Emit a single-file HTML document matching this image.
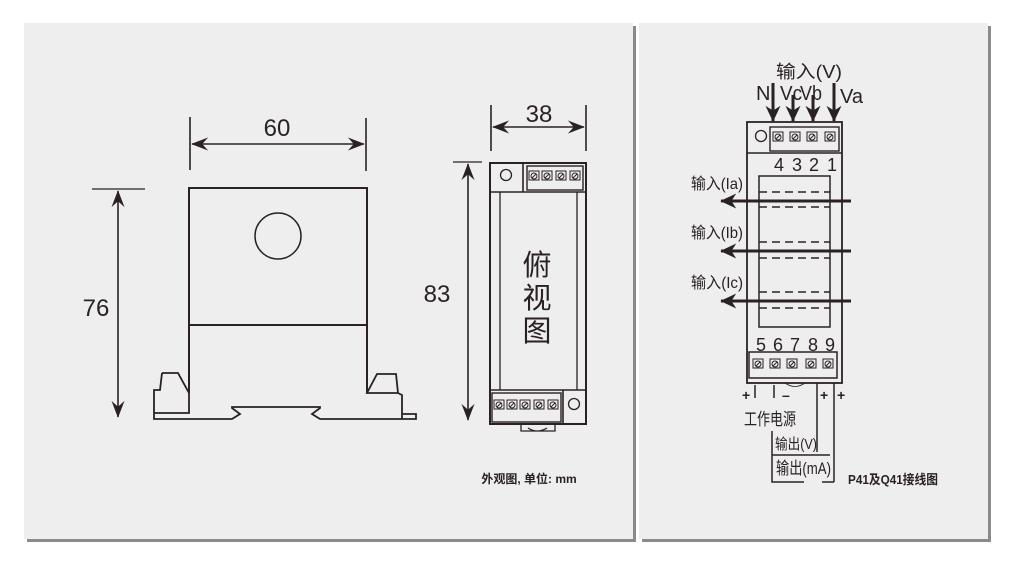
<!DOCTYPE html>
<html><head><meta charset="utf-8"><style>
html,body{margin:0;padding:0;background:#fff;width:1016px;height:567px;overflow:hidden}
svg{display:block}
text{font-family:"Liberation Sans","Noto Sans CJK SC",sans-serif;fill:#2a2222}
</style></head><body>
<svg width="1016" height="567" viewBox="0 0 1016 567" xmlns="http://www.w3.org/2000/svg">
<defs>
<marker id="ah" viewBox="0 0 10 10" refX="9.5" refY="5" markerWidth="17" markerHeight="13" markerUnits="userSpaceOnUse" orient="auto-start-reverse" preserveAspectRatio="none"><path d="M0,0 L10,5 L0,10 L3.5,5 z" fill="#2a2222"/></marker>
<marker id="bh" viewBox="0 0 10 10" refX="9.5" refY="5" markerWidth="16" markerHeight="15" markerUnits="userSpaceOnUse" orient="auto-start-reverse" preserveAspectRatio="none"><path d="M0,0 L10,5 L0,10 L3,5 z" fill="#2a2222"/></marker>
<g id="cell"><rect x="0" y="0" width="10" height="9" fill="none" stroke="#2a2222" stroke-width="1"/><circle cx="5" cy="5" r="3" fill="none" stroke="#2a2222" stroke-width="1"/><line x1="3" y1="7" x2="7" y2="3" stroke="#2a2222" stroke-width="1"/></g>
</defs>
<rect x="27" y="26" width="609" height="516" fill="#8a8a8a"/>
<rect x="24" y="23" width="609" height="516" fill="#eeeeee"/>
<rect x="642" y="26" width="349" height="516" fill="#8a8a8a"/>
<rect x="639" y="23" width="349" height="516" fill="#eeeeee"/>

<g stroke="#2a2222" fill="none" stroke-width="1.6">
<line x1="190" y1="117" x2="190" y2="170"/><line x1="366" y1="118" x2="366" y2="171"/>
<line x1="192" y1="144" x2="364" y2="144" marker-start="url(#ah)" marker-end="url(#ah)" stroke-width="1.6"/>
<line x1="92" y1="189" x2="145" y2="189" stroke-width="1.3"/>
<line x1="118" y1="191" x2="118" y2="417" marker-start="url(#ah)" marker-end="url(#ah)" stroke-width="1.6"/>
<rect x="189" y="188" width="178" height="137" stroke-width="2"/>
<circle cx="278" cy="236" r="23" stroke-width="1.5"/>
<path d="M189 325 V393 M367 325 V393" stroke-width="2"/>
<path d="M162 373 H178 L189 393 M162 373 L160 390 H154 V413 H189 V393 M154 413 V419 H232 L240 414 L232 408 V407 H320 V408 L312 414 L320 419 H402 V395 L398 393 L396 374 H377 L367 393 H398 M402 414 H416 V419 H402" stroke-width="1.8"/>
<line x1="491" y1="105" x2="491" y2="151"/><line x1="586" y1="105" x2="586" y2="151"/>
<line x1="493" y1="127" x2="584" y2="127" marker-start="url(#ah)" marker-end="url(#ah)" stroke-width="1.6"/>
<line x1="453" y1="162" x2="482" y2="162" stroke-width="1.3"/>
<line x1="468" y1="164" x2="468" y2="420" marker-start="url(#ah)" marker-end="url(#ah)" stroke-width="1.6"/>
<rect x="490" y="163" width="96" height="261" stroke-width="2"/>
<line x1="490" y1="192" x2="586" y2="192"/><line x1="523" y1="163" x2="523" y2="192"/>
<circle cx="506" cy="175" r="5.5" stroke-width="1.3"/>
<rect x="527" y="166" width="56" height="24" stroke-width="1.4"/>
<line x1="500" y1="192" x2="500" y2="390" stroke-width="1.3"/><line x1="577" y1="192" x2="577" y2="390" stroke-width="1.3"/>
<line x1="490" y1="390" x2="586" y2="390"/><line x1="563" y1="390" x2="563" y2="424"/>
<rect x="492" y="393" width="69" height="29" stroke-width="1.4"/>
<circle cx="574" cy="404" r="5.5" stroke-width="1.3"/>
<path d="M521 424 V431 H555 V424 M528 428 Q537 434 547 428" stroke-width="1.3"/>
<rect x="747" y="122" width="95" height="261" stroke-width="1.8"/>
<line x1="747" y1="153" x2="842" y2="153"/>
<circle cx="761" cy="136" r="5.5" stroke-width="1.3"/>
<rect x="770" y="127" width="69" height="24" stroke-width="1.4"/>
<rect x="759" y="176" width="71" height="151" stroke-width="1.5"/>
<g stroke-dasharray="8,5" stroke-width="1.5">
<line x1="759" y1="192" x2="830" y2="192"/><line x1="759" y1="207" x2="830" y2="207"/>
<line x1="759" y1="242" x2="830" y2="242"/><line x1="759" y1="258" x2="830" y2="258"/>
<line x1="759" y1="292" x2="830" y2="292"/><line x1="759" y1="308" x2="830" y2="308"/>
</g>
<g stroke-width="3">
<line x1="851" y1="201" x2="721" y2="201" marker-end="url(#bh)"/>
<line x1="851" y1="251" x2="721" y2="251" marker-end="url(#bh)"/>
<line x1="851" y1="301" x2="721" y2="301" marker-end="url(#bh)"/>
<line x1="773" y1="83" x2="773" y2="121" marker-end="url(#bh)"/>
<line x1="793" y1="95" x2="793" y2="121" marker-end="url(#bh)"/>
<line x1="813" y1="95" x2="813" y2="121" marker-end="url(#bh)"/>
<line x1="834" y1="83" x2="834" y2="121" marker-end="url(#bh)"/>
</g>
<rect x="749" y="352" width="88" height="26" stroke-width="1.5"/>
<path d="M785 383 Q795 390 805 383" stroke-width="0.8"/>
<path d="M755 385 V398 M774 385 V398 M817 383 V452 M834 383 V482 M772 431 V482 H804 M772 455 H830 M822 482 H834" stroke-width="1.5"/>
</g>
<use href="#cell" x="529" y="171"/><use href="#cell" x="542" y="171"/><use href="#cell" x="556" y="171"/><use href="#cell" x="570" y="171"/>
<use href="#cell" x="494" y="400"/><use href="#cell" x="507" y="400"/><use href="#cell" x="520" y="400"/><use href="#cell" x="534" y="400"/><use href="#cell" x="548" y="400"/>
<use href="#cell" x="773" y="132"/><use href="#cell" x="790" y="132"/><use href="#cell" x="807" y="132"/><use href="#cell" x="825" y="132"/>
<use href="#cell" x="753" y="359"/><use href="#cell" x="770" y="359"/><use href="#cell" x="787" y="359"/><use href="#cell" x="806" y="359"/><use href="#cell" x="823" y="359"/>

<text x="277" y="136" font-size="24" text-anchor="middle">60</text>
<text x="96" y="316" font-size="24" text-anchor="middle">76</text>
<text x="539" y="122" font-size="24" text-anchor="middle">38</text>
<text x="437" y="302" font-size="24" text-anchor="middle">83</text>
<text x="537" y="275" font-size="29" text-anchor="middle">俯</text>
<text x="537" y="308" font-size="29" text-anchor="middle">视</text>
<text x="537" y="341" font-size="29" text-anchor="middle">图</text>
<text x="529" y="483" font-size="12" font-weight="bold" text-anchor="middle">外观图, 单位: mm</text>

<text x="776" y="78" font-size="18" textLength="66" lengthAdjust="spacingAndGlyphs">输入(V)</text>
<text x="756" y="100" font-size="20">N</text>
<text x="780" y="100" font-size="20" textLength="22" lengthAdjust="spacingAndGlyphs">Vc</text>
<text x="800" y="100" font-size="20" textLength="22" lengthAdjust="spacingAndGlyphs">Vb</text>
<text x="840" y="103" font-size="20">Va</text>
<g font-size="18" text-anchor="middle">
<text x="779" y="171">4</text><text x="797" y="171">3</text><text x="814" y="171">2</text><text x="832" y="171">1</text>
<text x="761" y="351">5</text><text x="778" y="351">6</text><text x="795" y="351">7</text><text x="813" y="351">8</text><text x="830" y="351">9</text>
</g>
<text x="691" y="189" font-size="16" textLength="52" lengthAdjust="spacingAndGlyphs">输入(Ia)</text>
<text x="691" y="238" font-size="16" textLength="52" lengthAdjust="spacingAndGlyphs">输入(Ib)</text>
<text x="691" y="288" font-size="16" textLength="52" lengthAdjust="spacingAndGlyphs">输入(Ic)</text>
<text x="742" y="400" font-size="14" font-weight="bold">+</text>
<text x="782" y="400" font-size="14" font-weight="bold">–</text>
<text x="820" y="400" font-size="14" font-weight="bold">+</text>
<text x="837" y="400" font-size="14" font-weight="bold">+</text>
<text x="744" y="425" font-size="17" textLength="52" lengthAdjust="spacingAndGlyphs">工作电源</text>
<text x="775" y="449" font-size="15" textLength="42" lengthAdjust="spacingAndGlyphs">输出(V)</text>
<text x="776" y="474" font-size="17" textLength="55" lengthAdjust="spacingAndGlyphs">输出(mA)</text>
<text x="848" y="484" font-size="13" font-weight="bold" textLength="90" lengthAdjust="spacingAndGlyphs">P41及Q41接线图</text>
</svg>
</body></html>
